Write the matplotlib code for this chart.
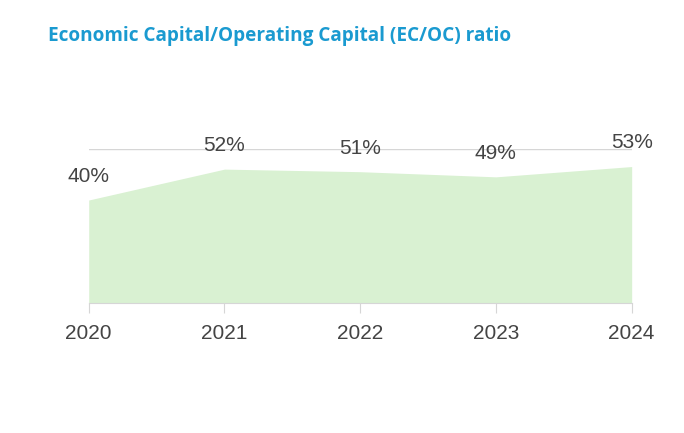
import matplotlib.pyplot as plt

anos = ['2020', '2021', '2022', '2023', '2024']
razao = [40, 52, 51, 49, 53]
rotulos = ['40%', '52%', '51%', '49%', '53%']

fig = plt.figure(figsize=(6.84, 4.33), dpi=100)
ax = fig.add_axes([0.1297, 0.3002, 0.7938, 0.3568])

x = range(len(anos))
ax.fill_between(x, razao, 0, color='#d9f1d2', linewidth=0)

### rótulos de valor acima de cada ponto
for i, v in enumerate(razao):
    ax.annotate(rotulos[i], (i, v), xytext=(0, 17), textcoords='offset points',
                ha='center', va='center', fontsize=15, color='#444444',
                family='Liberation Sans')

ax.set_xlim(0, len(anos) - 1)
ax.set_ylim(0, 60)
ax.set_xticks(list(x))
ax.set_xticklabels(anos, fontsize=15, color='#444444', family='Liberation Sans')
ax.set_yticks([60])
ax.yaxis.grid(True, color='#d6d6d6', linewidth=1)
ax.tick_params(axis='y', left=False, labelleft=False)
ax.tick_params(axis='x', length=7, color='#d6d6d6', pad=8)
for lado in ['top', 'right', 'left']:
    ax.spines[lado].set_visible(False)
ax.spines['bottom'].set_color('#d6d6d6')
ax.set_axisbelow(True)

fig.text(0.070, 0.917, 'Economic Capital/Operating Capital (EC/OC) ratio',
         fontsize=13.7, fontweight='bold', color='#1a9ad0', family='Open Sans',
         ha='left', va='center')

fig.savefig('out.png', dpi=100)
